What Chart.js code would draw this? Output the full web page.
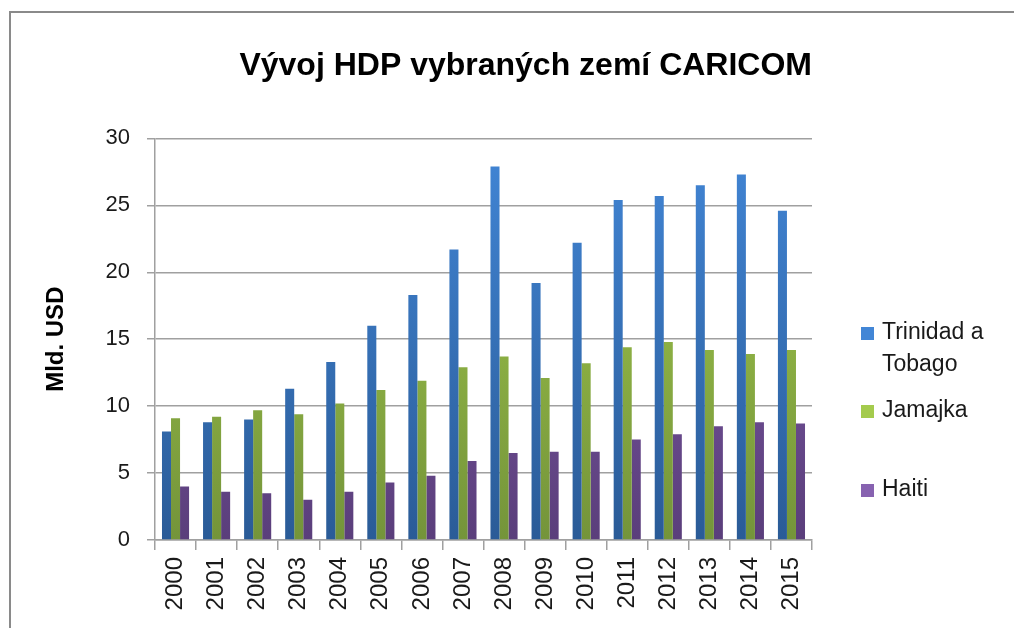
<!DOCTYPE html>
<html>
<head>
<meta charset="utf-8">
<script src="https://cdn.jsdelivr.net/npm/chart.js@4/dist/chart.umd.min.js"></script>
<style>
    html, body { margin: 0; padding: 0; background: #fff; overflow: hidden; }
    #wrap { position: relative; width: 1014px; height: 628px; }
    #frame { position: absolute; left: 9px; top: 11px; width: 1100px; height: 700px; border: 2px solid #8a8a8a; }
    #myBarChart { position: absolute; left: 0; top: 0; }
</style>
</head>
<body>
<div id="wrap">
    <div id="frame"></div>
    <canvas id="myBarChart" width="1014" height="628"></canvas>
</div>
<script>
// data (Mld. USD)
const years = ['2000', '2001', '2002', '2003', '2004', '2005', '2006', '2007',
    '2008', '2009', '2010', '2011', '2012', '2013', '2014', '2015'];
const trinidad = [8.1, 8.8, 9.0, 11.3, 13.3, 16.0, 18.3, 21.7, 27.9, 19.2, 22.2, 25.4, 25.7, 26.5, 27.3, 24.6];
const jamajka = [9.1, 9.2, 9.7, 9.4, 10.2, 11.2, 11.9, 12.9, 13.7, 12.1, 13.2, 14.4, 14.8, 14.2, 13.9, 14.2];
const haiti = [4.0, 3.6, 3.5, 3.0, 3.6, 4.3, 4.8, 5.9, 6.5, 6.6, 6.6, 7.5, 7.9, 8.5, 8.8, 8.7];
const seriesNames = ['Trinidad a Tobago', 'Jamajka', 'Haiti'];
const legendLines = [['Trinidad a', 'Tobago'], ['Jamajka'], ['Haiti']];

const font = "'Liberation Sans', Arial, sans-serif";

// top/bottom colours of the bar gradients
const colors = [
    ['#4286d6', '#2a5b97'],
    ['#a4cb4d', '#74943a'],
    ['#8762b0', '#5a3e7b']
];

function gradient(i) {
    return function (context) {
        const chart = context.chart;
        const area = chart.chartArea;
        if (!area) return colors[i][0];
        let g = chart.ctx.createLinearGradient(0, area.top, 0, area.bottom);
        g.addColorStop(0, colors[i][0]);
        g.addColorStop(1, colors[i][1]);
        return g;
    };
}

// legend on the right, drawn by hand so "Trinidad a Tobago" can wrap
const sideLegend = {
    id: 'sideLegend',
    afterDraw(chart) {
        const ctx = chart.ctx;
        const ys = [333, 411, 490];
        ctx.save();
        ctx.font = '23px ' + font;
        ctx.textBaseline = 'middle';
        chart.data.datasets.forEach(function (ds, i) {
            ctx.fillStyle = colors[i][0];
            ctx.fillRect(861, ys[i] - 6, 13, 13);
            ctx.fillStyle = '#1a1a1a';
            legendLines[i].forEach(function (line, j) {
                ctx.fillText(line, 882, ys[i] + j * 32);
            });
        });
        ctx.restore();
    }
};

let ctxBar = document.getElementById('myBarChart').getContext('2d');
window.myBarChart = new Chart(ctxBar, {
    type: 'bar',
    data: {
        labels: years,
        datasets: [
            { label: seriesNames[0], data: trinidad, backgroundColor: gradient(0) },
            { label: seriesNames[1], data: jamajka, backgroundColor: gradient(1) },
            { label: seriesNames[2], data: haiti, backgroundColor: gradient(2) }
        ]
    },
    options: {
        responsive: false,
        animation: { duration: 0 },
        datasets: {
            bar: { categoryPercentage: 0.66, barPercentage: 1.0 }
        },
        layout: {
            padding: { left: 40, right: 202, top: 14, bottom: 0 }
        },
        plugins: {
            legend: { display: false },
            tooltip: { enabled: false },
            title: {
                display: true,
                align: 'end',
                text: 'Vývoj HDP vybraných zemí CARICOM',
                color: '#000',
                font: { family: font, size: 32, weight: 'bold' },
                padding: { top: 33, bottom: 53 }
            }
        },
        scales: {
            x: {
                afterFit: function (scale) { scale.height = 88; },
                grid: {
                    offset: true,
                    drawOnChartArea: false,
                    tickLength: 10,
                    color: '#a0a0a0',
                    lineWidth: 1.5
                },
                border: { color: '#a0a0a0', width: 1.5 },
                ticks: {
                    minRotation: 90,
                    maxRotation: 90,
                    padding: 7,
                    color: '#1a1a1a',
                    font: { family: font, size: 24 }
                }
            },
            y: {
                min: 0,
                max: 30,
                afterFit: function (scale) { scale.width = 115; },
                grid: {
                    tickLength: 8,
                    color: '#a0a0a0',
                    lineWidth: 1.5
                },
                border: { color: '#a0a0a0', width: 1.5 },
                ticks: {
                    stepSize: 5,
                    padding: 17,
                    color: '#1a1a1a',
                    font: { family: font, size: 22 }
                },
                title: {
                    display: true,
                    text: 'Mld. USD',
                    color: '#000',
                    padding: { top: 2, bottom: 0 },
                    font: { family: font, size: 24, weight: 'bold' }
                }
            }
        }
    },
    plugins: [sideLegend]
});
</script>
</body>
</html>
